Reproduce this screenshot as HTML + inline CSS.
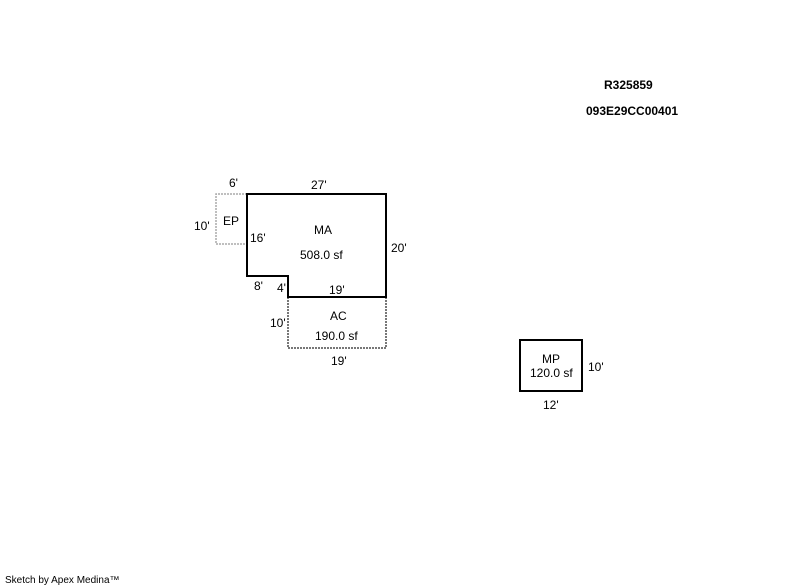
<!DOCTYPE html>
<html><head><style>
body{margin:0;background:#fff}
svg{display:block}
text{font-family:"Liberation Sans",Arial,sans-serif;font-size:12px;fill:#000}
.b{font-weight:bold}
</style></head><body>
<svg width="800" height="587" viewBox="0 0 800 587">
<polyline points="247,194 216,194 216,244 247,244" fill="none" stroke="#aaa" stroke-width="1.5" stroke-dasharray="2,1"/>
<polyline points="288,297 288,348 386,348 386,297" fill="none" stroke="#777" stroke-width="2" stroke-dasharray="2,1"/>
<polygon points="247,194 386,194 386,297 288,297 288,276 247,276" fill="none" stroke="#000" stroke-width="2"/>
<rect x="520" y="340" width="62" height="51" fill="none" stroke="#000" stroke-width="2"/>
<text class="b" x="604" y="89">R325859</text>
<text class="b" x="586" y="115">093E29CC00401</text>
<text x="229" y="187">6'</text>
<text x="311" y="189">27'</text>
<text x="194" y="230">10'</text>
<text x="223" y="225">EP</text>
<text x="250" y="242">16'</text>
<text x="314" y="234">MA</text>
<text x="300" y="259">508.0 sf</text>
<text x="391" y="252">20'</text>
<text x="254" y="290">8'</text>
<text x="277" y="292">4'</text>
<text x="329" y="294">19'</text>
<text x="330" y="320">AC</text>
<text x="315" y="340">190.0 sf</text>
<text x="270" y="327">10'</text>
<text x="331" y="365">19'</text>
<text x="542" y="363">MP</text>
<text x="530" y="377">120.0 sf</text>
<text x="588" y="371">10'</text>
<text x="543" y="409">12'</text>
<text x="5" y="583" style="font-size:10px">Sketch by Apex Medina™</text>
</svg>
</body></html>
